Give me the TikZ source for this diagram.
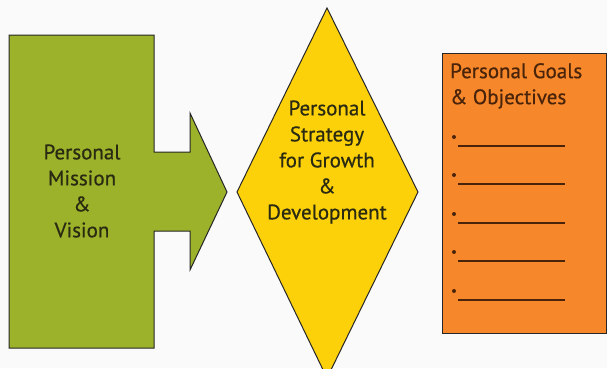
\documentclass[tikz,border=0pt]{standalone}
\usepackage{fontspec}
\setmainfont[FakeBold=0.6]{PT Sans}
\definecolor{bg}{HTML}{FAFAFA}
\definecolor{grn}{HTML}{9CB22A}
\definecolor{ylw}{HTML}{FDD10A}
\definecolor{org}{HTML}{F6872A}
\definecolor{txt}{HTML}{2A2A12}
\definecolor{txto}{HTML}{4A240A}
\tikzset{
  shapeline/.style={draw=black!85, line width=1pt, line join=miter},
  lbl/.style={align=center, font=\fontsize{21}{26}\selectfont, text=txt, inner sep=0pt},
  blank/.style={draw=txto, line width=1.2pt},
}
\begin{document}
\begin{tikzpicture}[x=1pt,y=-1pt]
\useasboundingbox (0,0) rectangle (607,368);
\fill[bg] (0,0) rectangle (607,368);
% green block arrow
\filldraw[shapeline, fill=grn] (9,35) -- (154,35) -- (154,152) -- (190,152) -- (190,113)
  -- (227,192) -- (190,270) -- (190,231) -- (154,231) -- (154,348) -- (9,348) -- cycle;
\node[lbl] (mission) at (82,191) {Personal\\Mission\\\&\\Vision};
% yellow diamond
\filldraw[shapeline, fill=ylw] (327,8) -- (418,192) -- (327,378) -- (237,192) -- cycle;
\node[lbl] (strategy) at (327,162) {Personal\\Strategy\\for Growth\\\&\\Development};
% orange box
\filldraw[shapeline, fill=org] (442,53) rectangle (606,333);
\node[lbl, text=txto, align=left, anchor=north west] (goals) at (450,63) {Personal Goals\\\& Objectives};
\foreach \i/\y in {1/146,2/184,3/223,4/261,5/300}{
  \fill[txto] (454,\y-9) circle (2) coordinate (b\i);
  \coordinate (s\i) at (458,\y);
  \coordinate (e\i) at (565,\y);
  \draw[blank] (s\i) -- (e\i);
}
\end{tikzpicture}
\end{document}
